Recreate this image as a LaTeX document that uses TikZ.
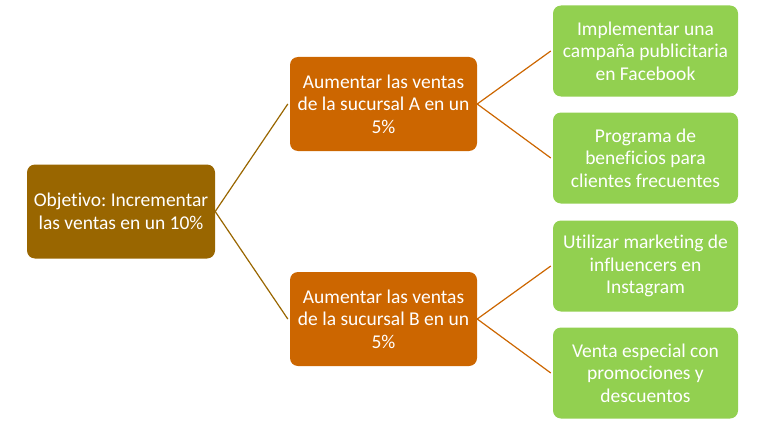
\documentclass[tikz,border=0pt]{standalone}
\usepackage{fontspec}
\setmainfont[Ligatures={NoCommon}]{Carlito}
\frenchspacing
\definecolor{rootc}{HTML}{996600}
\definecolor{midc}{HTML}{CC6600}
\definecolor{leafc}{HTML}{92D050}
\begin{document}
\begin{tikzpicture}[x=1pt,y=-1pt,
  box/.style={rounded corners=8pt, text=white, align=center, inner sep=0pt,
    font=\fontsize{19.5}{22.5}\selectfont},
  rootbox/.style={box, fill=rootc, minimum width=188pt, minimum height=94pt},
  midbox/.style={box, fill=midc, minimum width=187pt, minimum height=94pt},
  leafbox/.style={box, fill=leafc, minimum width=185pt, minimum height=91pt},
  conn1/.style={draw=rootc, line width=1.2pt},
  conn2/.style={draw=midc, line width=1.2pt}]
\useasboundingbox (0,0) rectangle (763,428);
\node[rootbox] (r) at (121,211.5) {Objetivo: Incrementar\\las ventas en un 10\%};
\node[midbox] (a) at (383.5,104) {Aumentar las ventas\\de la sucursal A en un\\5\%};
\node[midbox] (b) at (383.5,319) {Aumentar las ventas\\de la sucursal B en un\\5\%};
\node[leafbox] (l1) at (645.5,51) {Implementar una\\campaña publicitaria\\en Facebook};
\node[leafbox] (l2) at (645.5,158) {Programa de\\beneficios para\\clientes frecuentes};
\node[leafbox] (l3) at (645.5,266) {Utilizar marketing de\\influencers en\\Instagram};
\node[leafbox] (l4) at (645.5,373) {Venta especial con\\promociones y\\descuentos};
\draw[conn1] (r.east) -- ([xshift=-2pt]a.west);
\draw[conn1] (r.east) -- ([xshift=-2pt]b.west);
\draw[conn2] (a.east) -- ([xshift=-2pt]l1.west);
\draw[conn2] (a.east) -- ([xshift=-2pt]l2.west);
\draw[conn2] (b.east) -- ([xshift=-2pt]l3.west);
\draw[conn2] (b.east) -- ([xshift=-2pt]l4.west);
\end{tikzpicture}
\end{document}
